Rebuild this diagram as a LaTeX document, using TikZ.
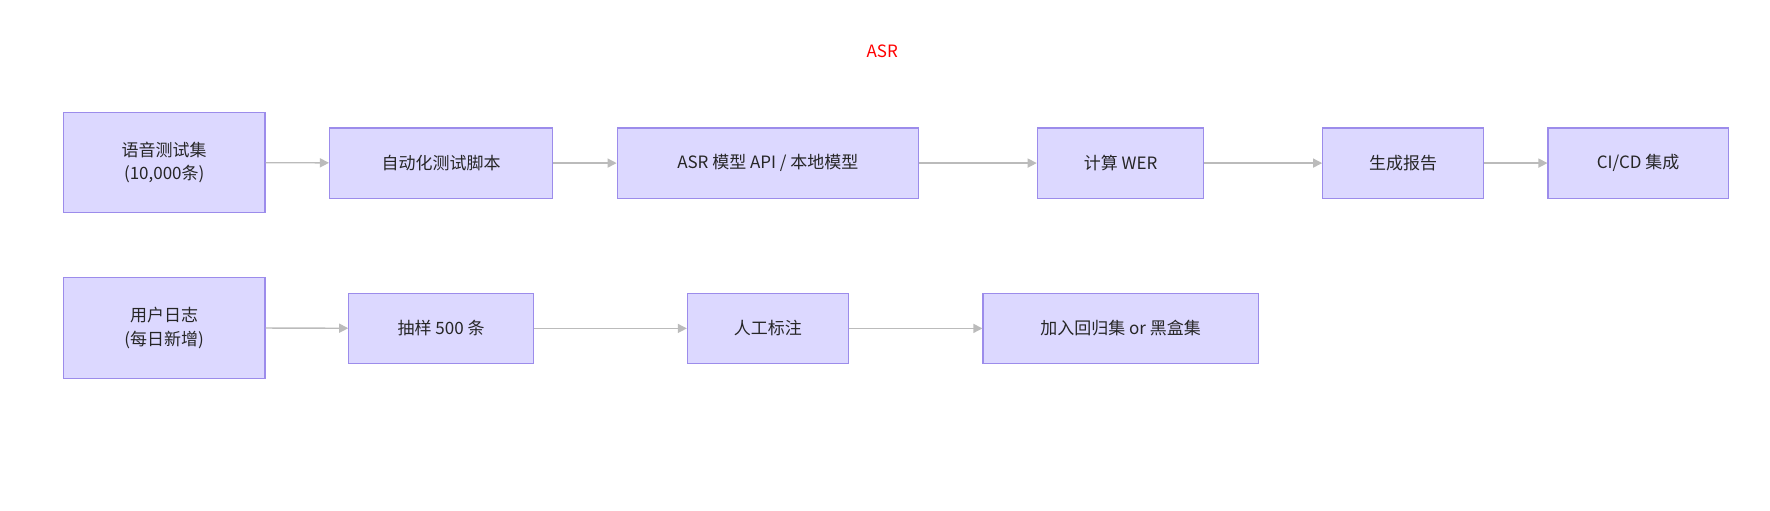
\documentclass[tikz,border=0pt]{standalone}
\usepackage{fontspec}
\setmainfont{Noto Sans CJK SC}
\usetikzlibrary{arrows.meta}
\definecolor{boxfill}{HTML}{DCD8FF}
\definecolor{boxline}{HTML}{9C8CEB}
\definecolor{arr}{HTML}{BBBBBB}
\begin{document}
\begin{tikzpicture}[x=1pt,y=-1pt,
  box/.style={draw=boxline,fill=boxfill,line width=1pt,align=center,font=\fontsize{15}{21}\selectfont,text=black!85},
  conn/.style={draw=arr,line width=1.2pt,-{Triangle[length=8pt,width=8pt]}}]
\useasboundingbox (0,0) rectangle (1563,451);
\newcommand\bx[6]{\node[box,minimum width=#4-#2,minimum height=#5-#3] (#1) at ({(#2+#4)/2},{(#3+#5)/2}) {#6};}
\node[text=red,font=\fontsize{15}{18}\selectfont] (title) at (779,45) {ASR};
\bx{a1}{56}{99}{234}{188}{语音测试集\\(10,000条)}
\bx{a2}{291}{113}{488}{175}{自动化测试脚本}
\bx{a3}{545}{113}{811}{175}{ASR 模型 API / 本地模型}
\bx{a4}{916}{113}{1063}{175}{计算 WER}
\bx{a5}{1168}{113}{1310}{175}{生成报告}
\bx{a6}{1367}{113}{1526}{175}{CI/CD 集成}
\bx{b1}{56}{245}{234}{334}{用户日志\\(每日新增)}
\bx{b2}{308}{259}{471}{321}{抽样 500 条}
\bx{b3}{607}{259}{749}{321}{人工标注}
\bx{b4}{868}{259}{1111}{321}{加入回归集 or 黑盒集}
\draw[conn] (a1) -- (a2);
\draw[conn] (a2) -- (a3);
\draw[conn] (a3) -- (a4);
\draw[conn] (a4) -- (a5);
\draw[conn] (a5) -- (a6);
\draw[conn] (b1) -- (b2);
\draw[conn] (b2) -- (b3);
\draw[conn] (b3) -- (b4);
\end{tikzpicture}
\end{document}
